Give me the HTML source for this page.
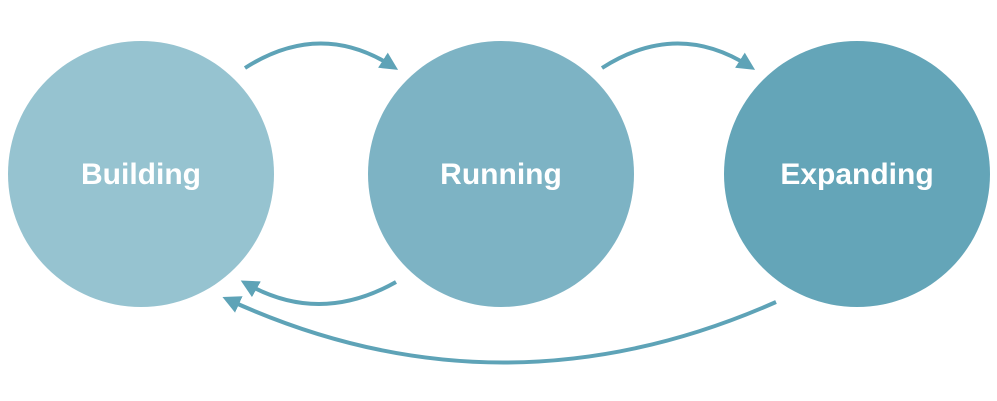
<!DOCTYPE html>
<html><head><style>html,body{margin:0;padding:0;background:#fff;}svg{display:block}</style></head>
<body>
<svg width="997" height="401" viewBox="0 0 997 401" xmlns="http://www.w3.org/2000/svg">
<defs>
<marker id="ah" viewBox="0 0 10 10" refX="6" refY="5" markerWidth="4.5" markerHeight="4.5" markerUnits="strokeWidth" orient="auto">
<path d="M0,0 L10,5 L0,10 Z" fill="#5ea3b7"/>
</marker>
</defs>
<circle cx="141" cy="174" r="133" fill="#96c3d0"/>
<circle cx="501" cy="174" r="133" fill="#7db3c4"/>
<circle cx="857" cy="174" r="133" fill="#64a5b8"/>
<g font-family="Liberation Sans, sans-serif" font-weight="bold" font-size="30" fill="#fff" text-anchor="middle">
<text x="141" y="184">Building</text>
<text x="501" y="184">Running</text>
<text x="857" y="184">Expanding</text>
</g>
<g fill="none" stroke="#5ea3b7" stroke-width="4">
<path d="M245,68 Q320,20 392,66" marker-end="url(#ah)"/>
<path d="M602,68 Q677,20 749,66" marker-end="url(#ah)"/>
<path d="M396,282 Q320,325 247,284" marker-end="url(#ah)"/>
<path d="M776,302 Q500,424 229,300" marker-end="url(#ah)"/>
</g>
</svg>
</body></html>
